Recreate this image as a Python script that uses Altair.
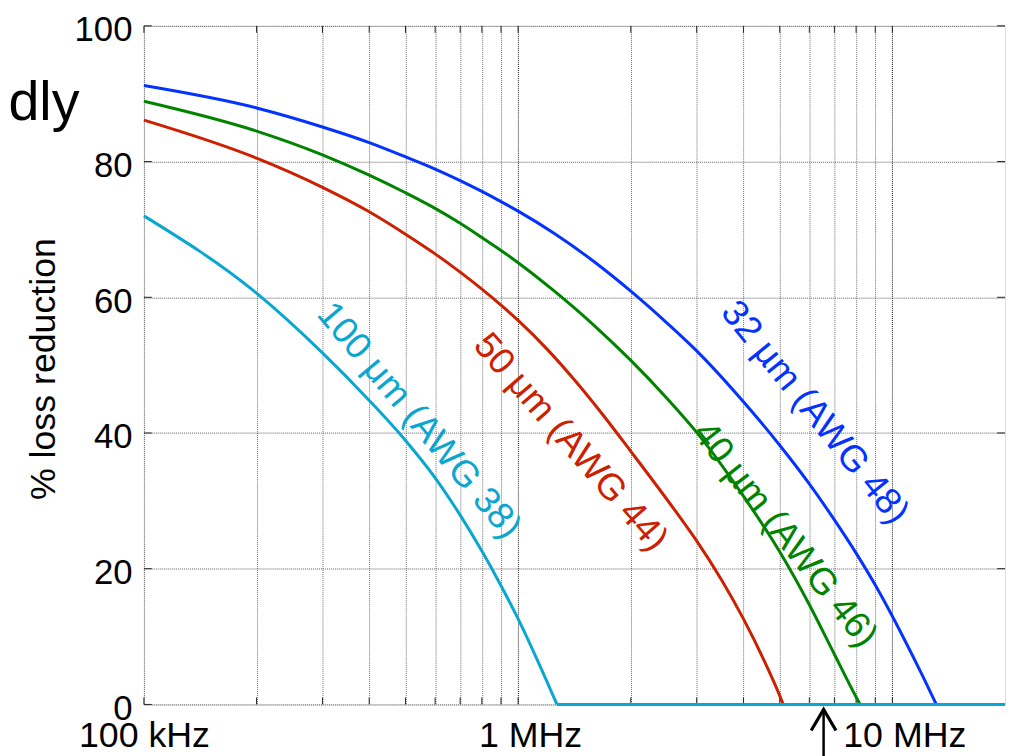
import altair as alt
import pandas as pd

# ---- data (frequency in MHz, % loss reduction) ----
freq_32 = [0.1, 0.2, 0.3, 0.4, 0.5, 0.6, 0.7, 0.8, 0.9, 1.0, 1.25, 1.6, 2.0, 2.5, 3.0, 4.0, 5.0, 6.0, 7.0, 8.0, 9.0, 10.0, 11.25, 12.0, 13.1]
val_32 = [91.2, 87.9, 85.1, 82.8, 80.7, 78.9, 77.2, 75.6, 74.1, 72.7, 69.4, 65.2, 60.9, 56.2, 52.1, 44.6, 38.2, 32.5, 27.2, 22.3, 17.6, 13.0, 7.5, 4.4, 0.0]

freq_40 = [0.1, 0.2, 0.3, 0.4, 0.5, 0.6, 0.7, 0.8, 0.9, 1.0, 1.25, 1.6, 2.0, 2.5, 3.0, 4.0, 5.0, 6.0, 7.0, 8.0, 8.2]
val_40 = [88.9, 84.5, 81.0, 78.0, 75.4, 73.1, 70.9, 68.8, 66.9, 65.1, 60.9, 55.8, 50.7, 45.1, 40.1, 30.7, 22.5, 14.7, 7.4, 1.1, 0.0]

freq_50 = [0.1, 0.2, 0.3, 0.4, 0.5, 0.6, 0.7, 0.8, 0.9, 1.0, 1.2, 1.4, 1.7, 2.0, 2.64, 3.0, 3.5, 4.0, 4.53, 5.0, 5.11]
val_50 = [86.1, 80.5, 76.2, 72.6, 69.3, 66.4, 63.7, 61.2, 58.85, 56.6, 52.25, 48.1, 42.4, 37.3, 28.4, 24.1, 18.3, 12.6, 6.6, 1.3, 0.0]

freq_100 = [0.1, 0.2, 0.3, 0.4, 0.5, 0.6, 0.7, 0.8, 0.9, 1.0, 1.12, 1.27]
val_100 = [72.0, 60.6, 51.8, 44.8, 38.9, 33.4, 27.9, 22.6, 17.5, 12.6, 6.8, 0.0]
freq_100_flat = [1.27, 20.0]
val_100_flat = [0.0, 0.0]

series_colors = ["#0433ff", "#008400", "#cc2000", "#0aa6d2"]

label_texts = ["32 µm (AWG 48)", "40 µm (AWG 46)", "50 μm (AWG 44)", "100 μm (AWG 38)"]
label_freq = [6.20, 5.16, 1.38, 0.543]
label_val = [43.0, 25.0, 38.6, 41.8]
label_angle = [51, 52, 49, 50]

x_ticks = [0.1, 0.2, 0.3, 0.4, 0.5, 0.6, 0.7, 0.8, 0.9,
           1, 2, 3, 4, 5, 6, 7, 8, 9, 10]
y_ticks = [0, 20, 40, 60, 80, 100]
arrow_freq = [6.55]

FONT = "Liberation Sans"
W, H = 868, 684

xscale = alt.Scale(type="log", domain=[0.1, 20], nice=False)
yscale = alt.Scale(domain=[0, 100], nice=False, zero=False)

xaxis = alt.Axis(
    values=x_ticks, grid=True, gridDash=[1, 1], gridWidth=1,
    gridColor={"condition": {"test": "datum.value == 1 || datum.value == 10", "value": "#1e1e1e"}, "value": "#6e6e6e"},
    ticks=False, tickSize=0, domain=False,
    labelExpr="datum.value == 0.1 ? '100 kHz' : datum.value == 1 ? '1 MHz' : datum.value == 10 ? '10 MHz' : ''",
    labelFont=FONT, labelFontSize=36, labelColor="black", labelPadding=14,
    labelOffset={"condition": {"test": "datum.value >= 1", "value": 12}, "value": 0},
    labelFlush=False, labelOverlap=False, labelBound=False, title=None,
)
yaxis = alt.Axis(
    values=y_ticks, grid=True, gridDash=[1, 1], gridWidth=1, gridColor="#5e5e5e",
    ticks=False, tickSize=0, domain=False,
    labelFont=FONT, labelFontSize=35, labelColor="black", labelPadding=12,
    labelOffset=4, labelFlush=False, labelOverlap=False, labelBound=False, title=None,
)

X = alt.X("f:Q", scale=xscale, axis=xaxis)
Y = alt.Y("v:Q", scale=yscale, axis=yaxis)


def line_layer(fr, vals, color, name, interp="monotone"):
    df = pd.DataFrame({"f": fr, "v": vals, "s": name})
    return alt.Chart(df).mark_line(color=color, strokeWidth=3, interpolate=interp, clip=False).encode(
        x=X, y=Y, detail="s:N"
    )


layers = []

# inward ticks (MATLAB style)
xt = pd.DataFrame({"f": x_ticks})
yt = pd.DataFrame({"v": y_ticks})
layers.append(alt.Chart(xt).mark_rule(color="#222222", strokeWidth=1).encode(x=X, y=alt.value(H), y2=alt.value(H - 7)))
layers.append(alt.Chart(xt).mark_rule(color="#222222", strokeWidth=1).encode(x=X, y=alt.value(0), y2=alt.value(7)))
layers.append(alt.Chart(yt).mark_rule(color="#222222", strokeWidth=1).encode(y=Y, x=alt.value(0), x2=alt.value(8)))
layers.append(alt.Chart(yt).mark_rule(color="#222222", strokeWidth=1).encode(y=Y, x=alt.value(W), x2=alt.value(W - 8)))

layers.append(line_layer(freq_32, val_32, series_colors[0], "32"))
layers.append(line_layer(freq_40, val_40, series_colors[1], "40"))
layers.append(line_layer(freq_50, val_50, series_colors[2], "50"))
layers.append(line_layer(freq_100, val_100, series_colors[3], "100"))
layers.append(line_layer(freq_100_flat, val_100_flat, series_colors[3], "100z", "linear"))

lab = pd.DataFrame({"f": label_freq, "v": label_val, "t": label_texts,
                    "a": label_angle, "c": series_colors})
layers.append(
    alt.Chart(lab).mark_text(font=FONT, fontSize=37, align="center", baseline="middle").encode(
        x=X, y=Y, text="t:N", angle=alt.Angle("a:Q", scale=None), color=alt.Color("c:N", scale=None)
    )
)

# y title
layers.append(
    alt.Chart(pd.DataFrame({"t": ["% loss reduction"]})).mark_text(
        font=FONT, fontSize=36, angle=270, align="center", baseline="alphabetic", color="black"
    ).encode(x=alt.value(-90), y=alt.value(346), text="t:N")
)
# slide title fragment
layers.append(
    alt.Chart(pd.DataFrame({"t": ["dly"]})).mark_text(
        font=FONT, fontSize=56, align="right", baseline="alphabetic", color="black"
    ).encode(x=alt.value(-65), y=alt.value(95), text="t:N")
)
# arrow below the axis
arr = pd.DataFrame({"f": arrow_freq})
layers.append(alt.Chart(arr).mark_rule(color="black", strokeWidth=2.5).encode(x=X, y=alt.value(H + 6), y2=alt.value(H + 70)))
layers.append(
    alt.Chart(arr).mark_point(shape="M -1 1.7 L 0 0 L 1 1.7", filled=False, size=625, strokeWidth=3.2,
                              color="black", opacity=1, strokeJoin="miter").encode(x=X, y=alt.value(H + 5))
)

chart = alt.layer(*layers).properties(
    width=W, height=H,
    autosize=alt.AutoSizeParams(type="none"),
    padding={"left": 137, "top": 15, "right": 2, "bottom": 52},
).configure_view(stroke="black", strokeWidth=2).configure(font=FONT)

chart.save("out.html", embed_options={"renderer": "svg", "actions": False})
